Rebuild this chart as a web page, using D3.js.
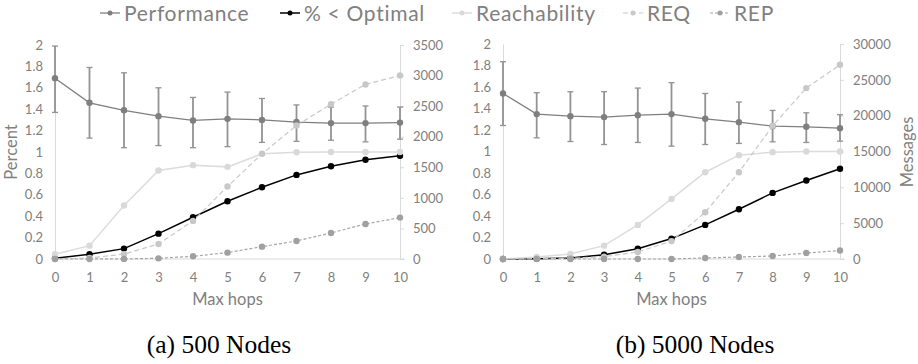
<!DOCTYPE html>
<html><head><meta charset="utf-8">
<script src="https://cdn.jsdelivr.net/npm/d3@7"></script>
<style>body{margin:0;background:#fff}svg{display:block}</style>
</head><body><svg id="c" width="918" height="364"></svg>
<script>
// ---------- data ----------
const hops = [0,1,2,3,4,5,6,7,8,9,10];
const leftTicks = [0,0.2,0.4,0.6,0.8,1,1.2,1.4,1.6,1.8,2];
const rightTicksA = [0,500,1000,1500,2000,2500,3000,3500];
const rightTicksB = [0,5000,10000,15000,20000,25000,30000];
const seriesNames = ["Performance","% < Optimal","Reachability","REQ","REP"];
const captions = ["(a) 500 Nodes","(b) 5000 Nodes"];

// 500 nodes
const perfA     = [1.69,1.46,1.39,1.335,1.295,1.31,1.30,1.28,1.27,1.27,1.275];
const perfAHigh = [1.99,1.79,1.74,1.60,1.51,1.56,1.50,1.44,1.42,1.43,1.42];
const perfALow  = [1.37,1.13,1.04,1.06,1.04,1.05,1.09,1.10,1.11,1.095,1.12];
const optA      = [0.006,0.044,0.097,0.237,0.39,0.54,0.67,0.786,0.867,0.927,0.964];
const reachA    = [0.044,0.125,0.50,0.827,0.877,0.861,0.983,0.997,1.0,1.0,1.0];
const reqA      = [0,16,80,246,623,1185,1720,2184,2533,2855,3003];
const repA      = [0,0,2,11,44,104,202,295,426,573,677];

// 5000 nodes
const perfB     = [1.54,1.348,1.329,1.32,1.338,1.348,1.304,1.273,1.236,1.23,1.217];
const perfBHigh = [1.835,1.547,1.556,1.556,1.59,1.64,1.54,1.46,1.382,1.36,1.342];
const perfBLow  = [1.242,1.127,1.093,1.065,1.084,1.05,1.065,1.075,1.09,1.084,1.096];
const optB      = [0,0.003,0.009,0.04,0.096,0.19,0.317,0.463,0.615,0.73,0.839];
const reachB    = [0,0.019,0.047,0.124,0.317,0.559,0.807,0.966,0.994,1.0,1.0];
const reqB      = [0,50,100,330,980,2500,6520,12110,18580,23850,27110];
const repB      = [0,0,0,0,0,0,140,280,420,830,1180];

// ---------- styles ----------
const FONT = "Lato, 'Open Sans', sans-serif";
const TXT = "#808080";
const AXIS = "#d9d9d9";
const styles = [
  {stroke:"#7f7f7f", fill:"#7f7f7f", width:1.3, dash:null},
  {stroke:"#000000", fill:"#000000", width:1.5, dash:null},
  {stroke:"#dcdcdc", fill:"#d9d9d9", width:1.5, dash:null},
  {stroke:"#c8c8c8", fill:"#c8c8c8", width:1.2, dash:"5,3"},
  {stroke:"#a6a6a6", fill:"#a0a0a0", width:1.2, dash:"3,2"}
];

const svg = d3.select("#c");

const panels = [
  {x0:55, x1:400, yTop:45, yBot:259, rTicks:rightTicksA, rMax:3500,
   perf:perfA, hi:perfAHigh, lo:perfALow, opt:optA, reach:reachA, req:reqA, rep:repA,
   leftTitle:"Percent", rightTitle:null, cap:captions[0], capX:219},
  {x0:503, x1:840, yTop:44, yBot:259, rTicks:rightTicksB, rMax:30000,
   perf:perfB, hi:perfBHigh, lo:perfBLow, opt:optB, reach:reachB, req:reqB, rep:repB,
   leftTitle:null, rightTitle:"Messages", cap:captions[1], capX:695}
];

panels.forEach(p => {
  const g = svg.append("g");
  const x = d3.scaleLinear().domain([0,10]).range([p.x0,p.x1]);
  const yL = d3.scaleLinear().domain([0,2]).range([p.yBot,p.yTop]);
  const yR = d3.scaleLinear().domain([0,p.rMax]).range([p.yBot,p.yTop]);

  // left axis
  const la = g.append("g").attr("transform",`translate(${p.x0},0)`)
    .call(d3.axisLeft(yL).tickValues(leftTicks).tickSize(0).tickPadding(12).tickFormat(d3.format("~g")));
  la.select(".domain").attr("stroke",AXIS);
  la.selectAll("text").attr("fill",TXT).style("font-family",FONT).style("font-size","13px");

  // right axis
  const ra = g.append("g").attr("transform",`translate(${p.x1},0)`)
    .call(d3.axisRight(yR).tickValues(p.rTicks).tickSize(4).tickPadding(9).tickFormat(d3.format("d")));
  ra.select(".domain").attr("stroke",AXIS);
  ra.selectAll("line").attr("stroke",AXIS);
  ra.selectAll("text").attr("fill",TXT).style("font-family",FONT).style("font-size","13px");

  // bottom axis
  const ba = g.append("g").attr("transform",`translate(0,${p.yBot})`)
    .call(d3.axisBottom(x).tickValues(hops).tickSize(0).tickPadding(14).tickFormat(d3.format("d")));
  ba.select(".domain").attr("stroke",AXIS).attr("d",`M${p.x0},0H${p.x1+5}`);
  ba.selectAll("text").attr("fill",TXT).style("font-family",FONT).style("font-size","13px");

  // titles
  g.append("text").attr("x",(p.x0+p.x1)/2).attr("y",305).attr("text-anchor","middle")
    .attr("fill",TXT).style("font-family",FONT).style("font-size","16.5px").text("Max hops");
  if (p.leftTitle) g.append("text").attr("transform",`translate(17,152) rotate(-90)`)
    .attr("text-anchor","middle").attr("fill",TXT).style("font-family",FONT).style("font-size","16.5px").text(p.leftTitle);
  if (p.rightTitle) g.append("text").attr("transform",`translate(913,152) rotate(-90)`)
    .attr("text-anchor","middle").attr("fill",TXT).style("font-family",FONT).style("font-size","16.5px").text(p.rightTitle);

  // caption
  g.append("text").attr("x",p.capX).attr("y",353).attr("text-anchor","middle")
    .attr("fill","#000").style("font-family","'Liberation Serif', serif").style("font-size","25.5px").text(p.cap);

  // error bars
  const eb = g.append("g");
  hops.forEach((h,i) => {
    eb.append("line").attr("x1",x(h)).attr("x2",x(h)).attr("y1",yL(p.hi[i])).attr("y2",yL(p.lo[i]))
      .attr("stroke","#939393").attr("stroke-width",1.8);
    [p.hi[i],p.lo[i]].forEach(v => eb.append("line").attr("x1",x(h)-3).attr("x2",x(h)+3)
      .attr("y1",yL(v)).attr("y2",yL(v)).attr("stroke","#939393").attr("stroke-width",1.3));
  });

  const series = [
    {vals:p.perf, y:yL, s:styles[0]},
    {vals:p.opt, y:yL, s:styles[1]},
    {vals:p.reach, y:yL, s:styles[2]},
    {vals:p.req, y:yR, s:styles[3]},
    {vals:p.rep, y:yR, s:styles[4]}
  ];
  series.forEach(se => {
    const line = d3.line().x((d,i)=>x(hops[i])).y(d=>se.y(d));
    g.append("path").attr("d",line(se.vals)).attr("fill","none")
      .attr("stroke",se.s.stroke).attr("stroke-width",se.s.width)
      .attr("stroke-dasharray",se.s.dash);
    g.append("g").selectAll("circle").data(se.vals).join("circle")
      .attr("cx",(d,i)=>x(hops[i])).attr("cy",d=>se.y(d)).attr("r",3.2).attr("fill",se.s.fill);
  });
});

// legend
const legX = [100,280,452,623,710];
const lg = svg.append("g");
seriesNames.forEach((n,i) => {
  const s = styles[i];
  const gx = legX[i];
  lg.append("line").attr("x1",gx).attr("x2",gx+20).attr("y1",13).attr("y2",13)
    .attr("stroke",s.stroke).attr("stroke-width",s.width).attr("stroke-dasharray",s.dash);
  lg.append("circle").attr("cx",gx+10).attr("cy",13).attr("r",2.5).attr("fill",s.fill);
  lg.append("text").attr("x",gx+24).attr("y",21).attr("fill",TXT)
    .style("font-family",FONT).style("font-size","21px").style("letter-spacing","0.7px").text(n);
});
</script></body></html>
